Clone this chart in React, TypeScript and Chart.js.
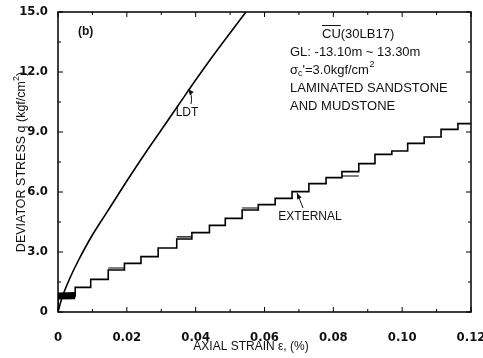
import React, { useEffect, useRef } from "react";
import { Chart, registerables } from "chart.js";

Chart.register(...registerables);

// ---- data ----
const xTickLabels = ["0", "0.02", "0.04", "0.06", "0.08", "0.10", "0.12"];
const yTickLabels = ["0", "3.0", "6.0", "9.0", "12.0", "15.0"];

// LDT curve (axial strain %, deviator stress kgf/cm2)
const ldtStrain = [0, 0.001, 0.002, 0.004, 0.006, 0.008, 0.010, 0.012, 0.015, 0.020, 0.025, 0.030, 0.035, 0.040, 0.045, 0.050, 0.0546];
const ldtStress = [0, 0.62, 1.1, 1.9, 2.6, 3.25, 3.85, 4.4, 5.2, 6.55, 7.85, 9.1, 10.35, 11.6, 12.8, 13.95, 15.0];

// EXTERNAL curve: stepped record (edges of each step and its level)
const extEdges = [0, 0.005, 0.0095, 0.0146, 0.0193, 0.0241, 0.0291, 0.0345, 0.0389, 0.044, 0.0486, 0.0535, 0.0582, 0.0631, 0.068, 0.0729, 0.0779, 0.0825, 0.0874, 0.0921, 0.097, 0.1016, 0.1064, 0.1113, 0.1162, 0.12];
const extLevels = [0.8, 1.23, 1.63, 2.1, 2.43, 2.77, 3.2, 3.65, 3.97, 4.33, 4.68, 5.1, 5.37, 5.68, 6.02, 6.42, 6.72, 7.02, 7.42, 7.88, 8.05, 8.43, 8.75, 9.13, 9.42];

// initial unload/reload cycles (dense band near the origin)
const cycleStrain = [0, 0.005, 0, 0.005, 0, 0.005, 0, 0.005, 0, 0.005];
const cycleStress = [0.66, 0.68, 0.73, 0.75, 0.8, 0.82, 0.87, 0.89, 0.93, 0.96];

// doubled (reloading) traces on a few steps
const bandStart = [0.0146, 0.0345, 0.0535, 0.0825];
const bandEnd = [0.0193, 0.0389, 0.0582, 0.0874];
const bandLevel = [2.2, 3.76, 5.2, 6.8];

const ldtData = ldtStrain.map((x, i) => ({ x, y: ldtStress[i] }));
const extData: { x: number; y: number }[] = [{ x: 0, y: 0 }];
extLevels.forEach((lv, i) => {
  extData.push({ x: extEdges[i], y: lv });
  extData.push({ x: extEdges[i + 1], y: lv });
});
const cycleData = cycleStrain.map((x, i) => ({ x, y: cycleStress[i] }));
const bandData: { x: number; y: number | null }[] = [];
bandStart.forEach((s, i) => {
  bandData.push({ x: s, y: bandLevel[i] });
  bandData.push({ x: bandEnd[i], y: bandLevel[i] });
  bandData.push({ x: bandEnd[i], y: null });
});

const TEXT = "#111";
const SANS = '"Liberation Sans", Arial, sans-serif';

function arrow(ctx: CanvasRenderingContext2D, x0: number, y0: number, cx: number, cy: number, x1: number, y1: number) {
  ctx.beginPath();
  ctx.moveTo(x0, y0);
  ctx.quadraticCurveTo(cx, cy, x1, y1);
  ctx.stroke();
  const ang = Math.atan2(y1 - cy, x1 - cx);
  const L = 6, W = 2.5;
  ctx.beginPath();
  ctx.moveTo(x1, y1);
  ctx.lineTo(x1 - L * Math.cos(ang) + W * Math.sin(ang), y1 - L * Math.sin(ang) - W * Math.cos(ang));
  ctx.lineTo(x1 - L * Math.cos(ang) - W * Math.sin(ang), y1 - L * Math.sin(ang) + W * Math.cos(ang));
  ctx.closePath();
  ctx.fill();
}

const framePlugin = {
  id: "frameAndText",
  afterDraw(chart: any) {
    const { ctx, chartArea: a, scales } = chart;
    const xs = scales.x, ys = scales.y;
    ctx.save();
    ctx.strokeStyle = "#000";
    ctx.lineWidth = 1.5;
    ctx.strokeRect(a.left, a.top, a.right - a.left, a.bottom - a.top);
    ctx.lineWidth = 1;
    ctx.beginPath();
    for (let i = 0; i <= 12; i++) {
      const px = xs.getPixelForValue(i * 0.01);
      const len = i % 2 === 0 ? 5 : 3;
      ctx.moveTo(px, a.bottom); ctx.lineTo(px, a.bottom - len);
      ctx.moveTo(px, a.top); ctx.lineTo(px, a.top + len);
    }
    for (let i = 0; i <= 10; i++) {
      const py = ys.getPixelForValue(i * 1.5);
      const len = i % 2 === 0 ? 5 : 3;
      ctx.moveTo(a.left, py); ctx.lineTo(a.left + len, py);
      ctx.moveTo(a.right, py); ctx.lineTo(a.right - len, py);
    }
    ctx.stroke();

    ctx.fillStyle = TEXT;
    ctx.strokeStyle = TEXT;
    ctx.textBaseline = "middle";

    // panel label
    ctx.font = `bold 12px ${SANS}`;
    ctx.textAlign = "left";
    ctx.fillText("(b)", 78, 32);

    // info block
    const F = `13px ${SANS}`;
    const FS = `9px ${SANS}`;
    ctx.font = F;
    const l1x = 322, l1y = 34;
    ctx.fillText("CU(30LB17)", l1x, l1y);
    const cuW = ctx.measureText("CU").width;
    ctx.lineWidth = 1;
    ctx.beginPath(); ctx.moveTo(l1x, l1y - 8.5); ctx.lineTo(l1x + cuW, l1y - 8.5); ctx.stroke();

    const bx = 290;
    ctx.fillText("GL: -13.10m ~ 13.30m", bx, 52);
    // sigma line
    let cx = bx;
    const sy = 70;
    ctx.fillText("σ", cx, sy); cx += ctx.measureText("σ").width;
    ctx.font = FS;
    ctx.fillText("c", cx, sy + 4); cx += ctx.measureText("c").width;
    ctx.font = F;
    ctx.fillText("'=3.0kgf/cm", cx, sy); cx += ctx.measureText("'=3.0kgf/cm").width;
    ctx.font = FS;
    ctx.fillText("2", cx + 0.5, sy - 5);
    ctx.font = F;
    ctx.fillText("LAMINATED SANDSTONE", bx, 88);
    ctx.fillText("AND MUDSTONE", bx, 106);

    // curve labels with arrows
    ctx.font = `12px ${SANS}`;
    ctx.textAlign = "center";
    ctx.fillText("LDT", 187, 113);
    ctx.fillText("EXTERNAL", 310, 217);
    ctx.lineWidth = 1;
    arrow(ctx, 191, 104, 193, 95, 188, 89);
    arrow(ctx, 303, 208, 300, 200, 297, 193);

    // axis titles
    ctx.font = `12px ${SANS}`;
    ctx.fillText("AXIAL STRAIN ε, (%)", 251, 347);
    ctx.save();
    ctx.translate(22, 162);
    ctx.rotate(-Math.PI / 2);
    ctx.textAlign = "left";
    const YF = `12.5px ${SANS}`;
    ctx.font = YF;
    const t1 = "DEVIATOR STRESS q (kgf/cm";
    const w1 = ctx.measureText(t1).width;
    ctx.font = FS;
    const w2 = ctx.measureText("2").width;
    ctx.font = YF;
    const w3 = ctx.measureText(")").width;
    const start = -(w1 + w2 + w3) / 2;
    ctx.fillText(t1, start, 0);
    ctx.font = FS;
    ctx.fillText("2", start + w1, -5);
    ctx.font = YF;
    ctx.fillText(")", start + w1 + w2, 0);
    ctx.restore();

    ctx.restore();
  },
};

export default function App() {
  const ref = useRef<HTMLCanvasElement>(null);
  useEffect(() => {
    document.body.style.margin = "0";
    const canvas = ref.current!;
    const tickFont = { family: '"Liberation Sans Narrow", "DejaVu Sans Condensed", sans-serif', size: 13, weight: "bold" as const };
    const line = { borderColor: "#000", borderWidth: 1.6, pointRadius: 0 };
    const chart = new Chart(canvas, {
      type: "line",
      data: {
        datasets: [
          { label: "LDT", data: ldtData, ...line, tension: 0.4, cubicInterpolationMode: "monotone" },
          { label: "EXTERNAL", data: extData, ...line, tension: 0 },
          { label: "cycles", data: cycleData, ...line, tension: 0 },
          { label: "reload", data: bandData as any, ...line, borderWidth: 1.2, tension: 0, spanGaps: false },
        ],
      },
      options: {
        responsive: false,
        animation: false,
        layout: { padding: { top: 12, right: 12, left: 0, bottom: 0 } },
        plugins: { legend: { display: false }, tooltip: { enabled: false }, title: { display: false } },
        scales: {
          x: {
            type: "linear",
            min: 0,
            max: 0.12,
            grid: { display: false },
            border: { display: false },
            ticks: {
              stepSize: 0.02,
              padding: 10,
              color: TEXT,
              font: tickFont,
              maxRotation: 0,
              autoSkip: false,
              callback: (_v: any, i: number) => xTickLabels[i],
            },
            afterFit: (s: any) => { s.height = 46; s.paddingRight = 12; s.paddingLeft = 0; },
          },
          y: {
            type: "linear",
            min: 0,
            max: 15,
            grid: { display: false },
            border: { display: false },
            ticks: {
              stepSize: 3,
              padding: 2,
              color: TEXT,
              font: tickFont,
              autoSkip: false,
              callback: (_v: any, i: number) => yTickLabels[i],
            },
            afterFit: (s: any) => { s.width = 58; s.paddingTop = 0; },
          },
        },
      },
      plugins: [framePlugin],
    });
    return () => chart.destroy();
  }, []);
  return (
    <div style={{ width: 483, height: 358 }}>
      <canvas ref={ref} width={483} height={358} />
    </div>
  );
}
